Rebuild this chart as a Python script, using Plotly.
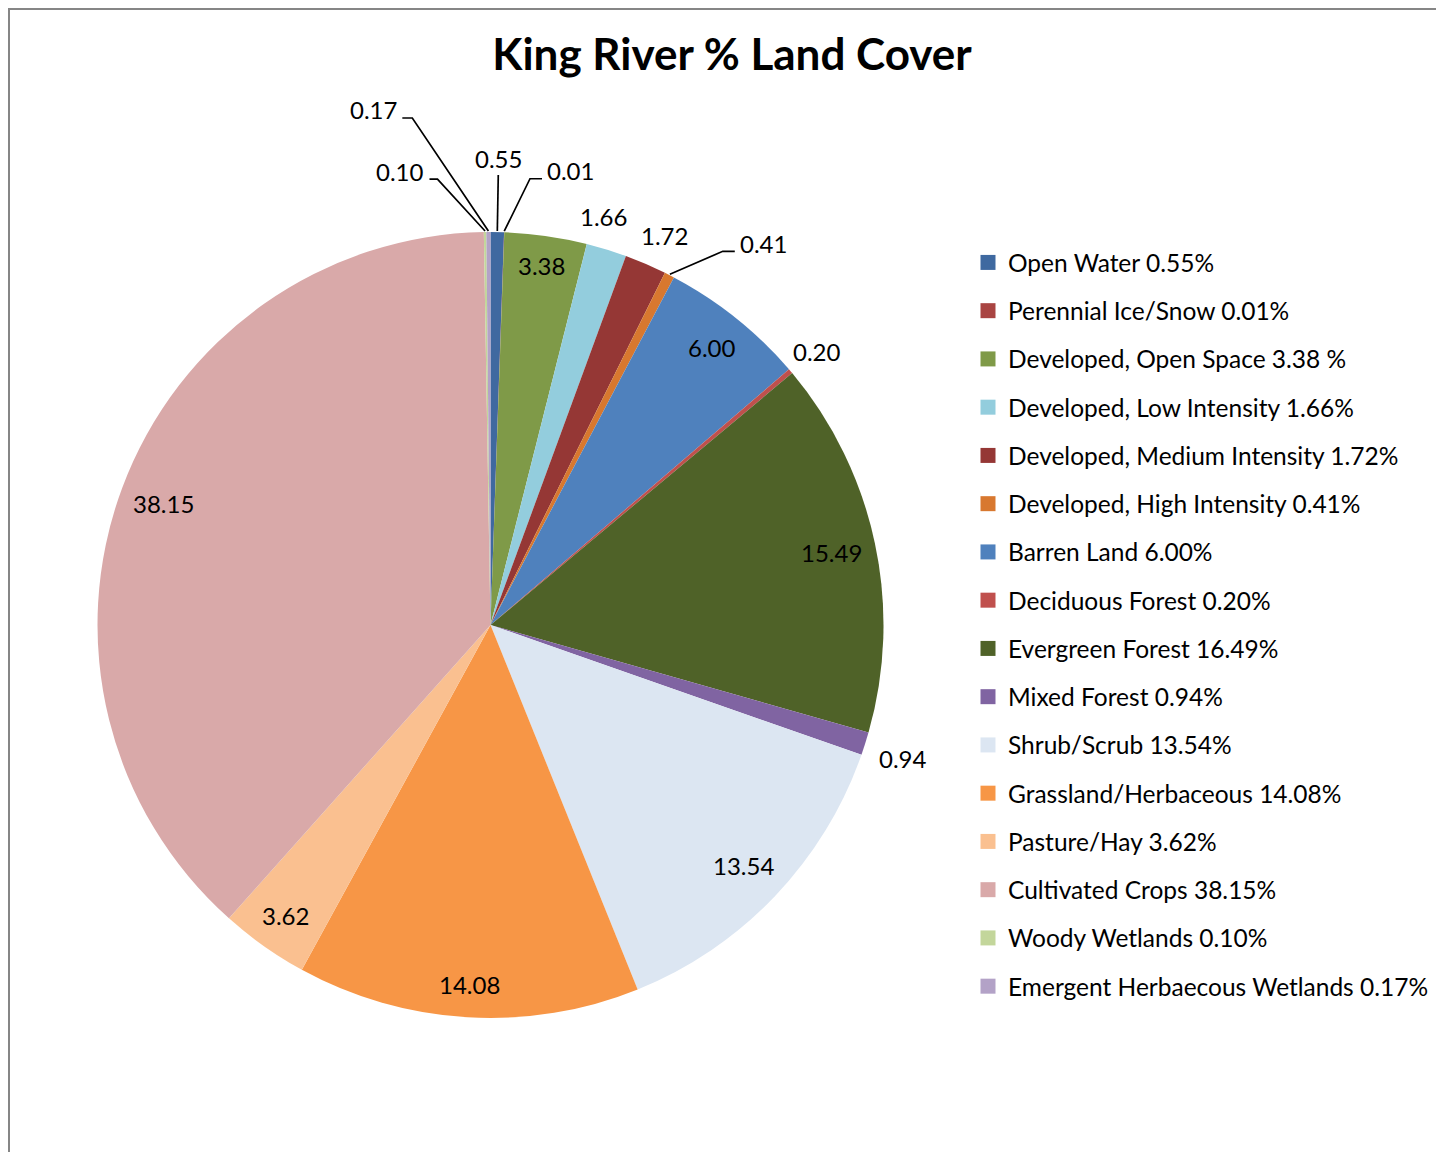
import math
import plotly.graph_objects as go

# ---------------- data ----------------
categories = ["Open Water", "Perennial Ice/Snow", "Developed, Open Space",
              "Developed, Low Intensity", "Developed, Medium Intensity",
              "Developed, High Intensity", "Barren Land", "Deciduous Forest",
              "Evergreen Forest", "Mixed Forest", "Shrub/Scrub",
              "Grassland/Herbaceous", "Pasture/Hay", "Cultivated Crops",
              "Woody Wetlands", "Emergent Herbaecous Wetlands"]
values = [0.55, 0.01, 3.38, 1.66, 1.72, 0.41, 6.00, 0.20, 15.49, 0.94,
          13.54, 14.08, 3.62, 38.15, 0.10, 0.17]
legend_labels = ["Open Water 0.55%", "Perennial Ice/Snow 0.01%",
                 "Developed, Open Space 3.38 %", "Developed, Low Intensity 1.66%",
                 "Developed, Medium Intensity 1.72%", "Developed, High Intensity 0.41%",
                 "Barren Land 6.00%", "Deciduous Forest 0.20%",
                 "Evergreen Forest 16.49%", "Mixed Forest 0.94%",
                 "Shrub/Scrub 13.54%", "Grassland/Herbaceous 14.08%",
                 "Pasture/Hay 3.62%", "Cultivated Crops 38.15%",
                 "Woody Wetlands 0.10%", "Emergent Herbaecous Wetlands 0.17%"]
colors = ["#3F69A0", "#A94442", "#7F9A48", "#93CDDD", "#953735", "#D8782F",
          "#4F81BD", "#C0504D", "#4F6228", "#8064A2", "#DCE6F2", "#F79646",
          "#FAC090", "#D9A9A9", "#C3D69B", "#B3A2C7"]

# ---------------- layout / style ----------------
OFF = 8                      # page body margin of the browser
W, H = 1444 - 2 * OFF, 1160 - 2 * OFF
CX, CY, R = 490.5, 625.0, 393.0   # pie centre / radius in window pixels
FONT = "Lato"

# label placement (style only): free text, radial leader, or elbow leader
label_place = {
    0: dict(kind="radial", line_r=450, text_r=467),
    1: dict(kind="elbow", dang=3.06, elbow_r=448, hlen=12, side=1),
    2: dict(kind="free", r=363, dang=0),
    3: dict(kind="free", r=424, dang=-1.7),
    4: dict(kind="free", r=427, dang=0.8),
    5: dict(kind="elbow", dang=4.78, elbow_r=440, hlen=12, side=1),
    6: dict(kind="free", r=355, dang=0),
    7: dict(kind="free", r=426, dang=0.2),
    8: dict(kind="free", r=349, dang=0),
    9: dict(kind="free", r=434, dang=0.4),
    10: dict(kind="free", r=349, dang=0),
    11: dict(kind="free", r=360, dang=0),
    12: dict(kind="free", r=356, dang=0),
    13: dict(kind="free", r=349, dang=0),
    14: dict(kind="elbow", dang=-5.99, elbow_r=449, hlen=8, side=-1),
    15: dict(kind="elbow", dang=-8.46, elbow_r=513, hlen=10, side=-1),
}


def px2paper(x, y):
    """window pixel -> paper coordinate"""
    return (x - OFF) / W, 1 - (y - OFF) / H


def polar(ang, r):
    a = math.radians(ang)
    return CX + r * math.sin(a), CY - r * math.cos(a)


total = sum(values)
mids = []
acc = 0.0
for v in values:
    mids.append((acc + v / 2) / total * 360.0)
    acc += v

fig = go.Figure()

dx0, dy0 = px2paper(CX - R, CY + R)
dx1, dy1 = px2paper(CX + R, CY - R)
fig.add_trace(go.Pie(
    labels=categories, values=values, sort=False, direction="clockwise",
    rotation=0, textinfo="none", showlegend=False,
    marker=dict(colors=colors, line=dict(width=0)),
    domain=dict(x=[dx0, dx1], y=[dy0, dy1]),
    hovertemplate="%{label}: %{value}<extra></extra>",
))

# legend via placeholder traces (for spacing control)
for i, (lab, col) in enumerate(zip(legend_labels, colors)):
    fig.add_trace(go.Scatter(
        x=[None], y=[None], mode="markers", name=lab, legendgroup=str(i),
        marker=dict(symbol="square", size=15, color=col), showlegend=True,
    ))

annotations = []
shapes = []
lbl_font = dict(family=FONT, size=24, color="black")
line_style = dict(color="black", width=1.7)
for i, v in enumerate(values):
    p = label_place[i]
    txt = f"{v:.2f}"
    if p["kind"] == "free":
        x, y = polar(mids[i] + p["dang"], p["r"])
        xp, yp = px2paper(x, y)
        annotations.append(dict(x=xp, y=yp, xref="paper", yref="paper", text=txt,
                                showarrow=False, font=lbl_font,
                                xanchor="center", yanchor="middle"))
    elif p["kind"] == "radial":
        a0 = px2paper(*polar(mids[i], R + 1))
        a1 = px2paper(*polar(mids[i], p["line_r"]))
        shapes.append(dict(type="path", xref="paper", yref="paper",
                           path=f"M{a0[0]},{a0[1]} L{a1[0]},{a1[1]}",
                           line=line_style))
        xp, yp = px2paper(*polar(mids[i], p["text_r"]))
        annotations.append(dict(x=xp, y=yp, xref="paper", yref="paper", text=txt,
                                showarrow=False, font=lbl_font,
                                xanchor="center", yanchor="middle"))
    else:
        x0, y0 = polar(mids[i], R + 1)
        xe, ye = polar(mids[i] + p["dang"], p["elbow_r"])
        xh = xe + p["side"] * p["hlen"]
        a0 = px2paper(x0, y0)
        a1 = px2paper(xe, ye)
        a2 = px2paper(xh, ye)
        shapes.append(dict(type="path", xref="paper", yref="paper",
                           path=f"M{a0[0]},{a0[1]} L{a1[0]},{a1[1]} L{a2[0]},{a2[1]}",
                           line=line_style))
        xp, yp = px2paper(xh + p["side"] * 3, ye - 8)
        annotations.append(dict(x=xp, y=yp, xref="paper", yref="paper", text=txt,
                                showarrow=False, font=lbl_font,
                                xanchor="left" if p["side"] > 0 else "right",
                                yanchor="middle"))

# chart-area border (top and left visible)
shapes.append(dict(type="rect", xref="paper", yref="paper",
                   x0=1 / W, x1=1.05, y0=-0.05, y1=1 - 1 / H,
                   line=dict(color="#868686", width=2), fillcolor="rgba(0,0,0,0)"))

tx, ty = px2paper(732, 55)
lx, ly = px2paper(968, 240)
fig.update_layout(
    width=W, height=H,
    margin=dict(l=0, r=0, t=0, b=0),
    paper_bgcolor="white", plot_bgcolor="white",
    title=dict(text="<b>King River % Land Cover</b>", x=tx, xanchor="center",
               y=ty, yanchor="middle",
               font=dict(family=FONT, size=44, color="black")),
    xaxis=dict(visible=False), yaxis=dict(visible=False),
    legend=dict(x=lx, xanchor="left", y=ly, yanchor="top",
                font=dict(family=FONT, size=24.5, color="black"),
                tracegroupgap=13.4, bgcolor="rgba(0,0,0,0)", borderwidth=0),
    annotations=annotations, shapes=shapes,
)

fig.write_html("out.html")
